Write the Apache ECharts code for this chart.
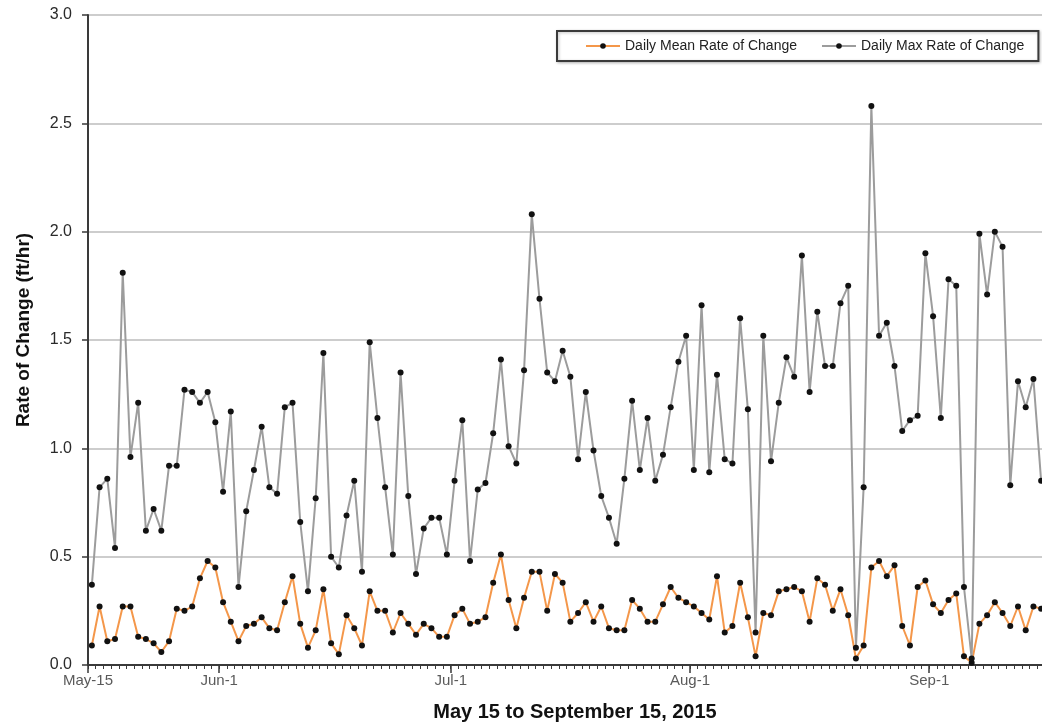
<!DOCTYPE html>
<html>
<head>
<meta charset="utf-8">
<title>Rate of Change, May 15 to September 15, 2015</title>
<script src="https://cdn.jsdelivr.net/npm/echarts@6/dist/echarts.min.js"></script>
<style>
  html, body { margin: 0; padding: 0; background: #ffffff; }
  #chart { width: 1042px; height: 722px; }
</style>
</head>
<body>
<div id="chart"></div>
<script>
// Daily rate of change (ft/hr), one value per day starting May 15, 2015
const startDate = new Date(2015, 4, 15);
const dayCount = 124;

const dailyMean = [
  0.09, 0.27, 0.11, 0.12, 0.27, 0.27, 0.13, 0.12, 0.10, 0.06,
  0.11, 0.26, 0.25, 0.27, 0.40, 0.48, 0.45, 0.29, 0.20, 0.11,
  0.18, 0.19, 0.22, 0.17, 0.16, 0.29, 0.41, 0.19, 0.08, 0.16,
  0.35, 0.10, 0.05, 0.23, 0.17, 0.09, 0.34, 0.25, 0.25, 0.15,
  0.24, 0.19, 0.14, 0.19, 0.17, 0.13, 0.13, 0.23, 0.26, 0.19,
  0.20, 0.22, 0.38, 0.51, 0.30, 0.17, 0.31, 0.43, 0.43, 0.25,
  0.42, 0.38, 0.20, 0.24, 0.29, 0.20, 0.27, 0.17, 0.16, 0.16,
  0.30, 0.26, 0.20, 0.20, 0.28, 0.36, 0.31, 0.29, 0.27, 0.24,
  0.21, 0.41, 0.15, 0.18, 0.38, 0.22, 0.04, 0.24, 0.23, 0.34,
  0.35, 0.36, 0.34, 0.20, 0.40, 0.37, 0.25, 0.35, 0.23, 0.03,
  0.09, 0.45, 0.48, 0.41, 0.46, 0.18, 0.09, 0.36, 0.39, 0.28,
  0.24, 0.30, 0.33, 0.04, 0.01, 0.19, 0.23, 0.29, 0.24, 0.18,
  0.27, 0.16, 0.27, 0.26
];

const dailyMax = [
  0.37, 0.82, 0.86, 0.54, 1.81, 0.96, 1.21, 0.62, 0.72, 0.62,
  0.92, 0.92, 1.27, 1.26, 1.21, 1.26, 1.12, 0.80, 1.17, 0.36,
  0.71, 0.90, 1.10, 0.82, 0.79, 1.19, 1.21, 0.66, 0.34, 0.77,
  1.44, 0.50, 0.45, 0.69, 0.85, 0.43, 1.49, 1.14, 0.82, 0.51,
  1.35, 0.78, 0.42, 0.63, 0.68, 0.68, 0.51, 0.85, 1.13, 0.48,
  0.81, 0.84, 1.07, 1.41, 1.01, 0.93, 1.36, 2.08, 1.69, 1.35,
  1.31, 1.45, 1.33, 0.95, 1.26, 0.99, 0.78, 0.68, 0.56, 0.86,
  1.22, 0.90, 1.14, 0.85, 0.97, 1.19, 1.40, 1.52, 0.90, 1.66,
  0.89, 1.34, 0.95, 0.93, 1.60, 1.18, 0.15, 1.52, 0.94, 1.21,
  1.42, 1.33, 1.89, 1.26, 1.63, 1.38, 1.38, 1.67, 1.75, 0.08,
  0.82, 2.58, 1.52, 1.58, 1.38, 1.08, 1.13, 1.15, 1.90, 1.61,
  1.14, 1.78, 1.75, 0.36, 0.03, 1.99, 1.71, 2.00, 1.93, 0.83,
  1.31, 1.19, 1.32, 0.85
];

const tickLabels = ['May-15', 'Jun-1', 'Jul-1', 'Aug-1', 'Sep-1'];
const yTicks = [0, 0.5, 1.0, 1.5, 2.0, 2.5, 3.0];

const monthNames = ['Jan','Feb','Mar','Apr','May','Jun','Jul','Aug','Sep','Oct','Nov','Dec'];
function dayLabel(i) {
  const d = new Date(startDate.getFullYear(), startDate.getMonth(), startDate.getDate() + i);
  return monthNames[d.getMonth()] + '-' + d.getDate();
}
// one category per day for the data, one per day boundary for the labelled ticks
const days = [];
for (let i = 0; i < dayCount; i++) days.push(dayLabel(i));
const dayEdges = [];
for (let i = 0; i <= dayCount; i++) dayEdges.push(dayLabel(i));

const FONT = "'Liberation Sans', Arial, sans-serif";
const isLabelled = (idx, val) => tickLabels.indexOf(val) !== -1;

const chart = echarts.init(document.getElementById('chart'), null, { renderer: 'canvas' });

chart.setOption({
  animation: false,
  backgroundColor: '#ffffff',
  textStyle: { fontFamily: FONT },
  grid: {
    left: 88, right: -3, top: 15, bottom: 57,
    containLabel: false,
    outerBoundsMode: 'none'
  },
  legend: {
    orient: 'horizontal',
    left: 557, top: 31, width: 470,
    padding: [8, 14, 8, 28],
    itemWidth: 34, itemHeight: 7, itemGap: 24,
    borderColor: '#3a3a3a', borderWidth: 2, borderRadius: 0,
    backgroundColor: '#ffffff',
    shadowColor: 'rgba(0,0,0,0.25)', shadowBlur: 3, shadowOffsetX: 1, shadowOffsetY: 1,
    textStyle: { fontFamily: FONT, fontSize: 14, color: '#222' },
    data: ['Daily Mean Rate of Change', 'Daily Max Rate of Change']
  },
  xAxis: [
    {
      type: 'category',
      data: days,
      boundaryGap: true,
      axisLine: { lineStyle: { color: '#3a3a3a', width: 2 } },
      axisTick: { show: true, interval: 0, length: 4, lineStyle: { color: '#3a3a3a', width: 1 } },
      axisLabel: { show: false },
      splitLine: { show: false }
    },
    {
      type: 'category',
      data: dayEdges,
      boundaryGap: false,
      position: 'bottom',
      axisLine: { show: false },
      axisTick: { show: true, interval: isLabelled, length: 8, lineStyle: { color: '#3a3a3a', width: 1.5 } },
      axisLabel: {
        interval: isLabelled, margin: 8,
        fontFamily: FONT, fontSize: 15, color: '#5a5a5a'
      },
      splitLine: { show: false },
      name: 'May 15 to September 15, 2015',
      nameLocation: 'middle',
      nameGap: 37,
      nameTextStyle: { fontFamily: FONT, fontSize: 20, fontWeight: 'bold', color: '#111', padding: [0, 0, 0, 17] }
    }
  ],
  yAxis: {
    type: 'value',
    min: yTicks[0], max: yTicks[yTicks.length - 1], interval: 0.5,
    axisLine: { show: true, lineStyle: { color: '#3a3a3a', width: 2 } },
    axisTick: { show: true, length: 6, lineStyle: { color: '#3a3a3a', width: 1.5 } },
    axisLabel: {
      margin: 16, fontFamily: FONT, fontSize: 16, color: '#2a2a2a',
      formatter: v => v.toFixed(1)
    },
    splitLine: { show: true, lineStyle: { color: '#cdcdcd', width: 2 } },
    name: 'Rate of Change (ft/hr)',
    nameLocation: 'middle',
    nameGap: 55,
    nameTextStyle: { fontFamily: FONT, fontSize: 19, fontWeight: 'bold', color: '#111', padding: [0, 0, 0, 20] }
  },
  series: [
    {
      name: 'Daily Mean Rate of Change',
      type: 'line',
      xAxisIndex: 0,
      data: dailyMean,
      symbol: 'circle', symbolSize: 6, showAllSymbol: true,
      lineStyle: { color: '#f4974a', width: 2 },
      itemStyle: { color: '#111111', borderWidth: 0 },
      z: 2
    },
    {
      name: 'Daily Max Rate of Change',
      type: 'line',
      xAxisIndex: 0,
      data: dailyMax,
      symbol: 'circle', symbolSize: 6, showAllSymbol: true,
      lineStyle: { color: '#9c9c9c', width: 2 },
      itemStyle: { color: '#111111', borderWidth: 0 },
      z: 3
    }
  ]
});
</script>
</body>
</html>
